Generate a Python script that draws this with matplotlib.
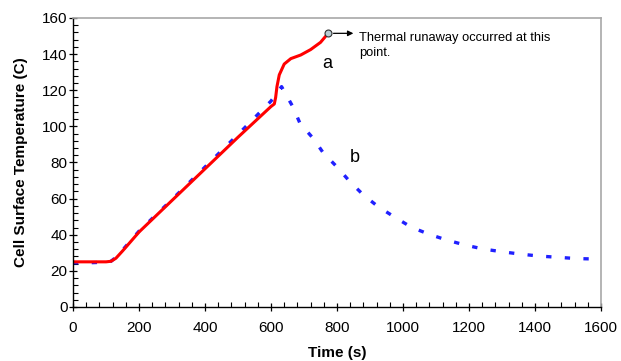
import matplotlib.pyplot as plt
from matplotlib.ticker import MultipleLocator

plt.rcParams['font.family'] = ['Liberation Sans', 'DejaVu Sans']

# curve a: cell that went into thermal runaway
red_t = [0, 50, 100, 115, 130, 150, 200, 300, 400, 500, 600, 610, 614, 618, 625, 640, 660, 690, 720, 750, 773]
red_T = [25, 25, 25, 25.3, 27, 31, 41.5, 59, 76.5, 94, 111, 112.4, 116, 122, 128.5, 134.5, 137.5, 139.5, 142.5, 146.5, 151.5]

# curve b: cell that cooled down
blue_t = [0, 50, 100, 115, 130, 150, 200, 300, 400, 500, 600, 632, 666, 688, 728, 758, 799,
          839, 880, 925, 976, 1026, 1080, 1132, 1188, 1243, 1299, 1355, 1412, 1471, 1526, 1600]
blue_T = [24.5, 24.5, 24.8, 25.3, 27.5, 31.5, 42, 59.5, 77.5, 95.5, 114, 122, 110.9, 101.6, 93.3, 85.4, 77.7,
          69.4, 62, 55.5, 49.6, 44.1, 40.2, 37.1, 34.3, 32.1, 30.6, 29.3, 28.2, 27.5, 26.8, 26.5]

runaway_t = 773
runaway_T = 151.5

fig = plt.figure(figsize=(6.21, 3.61), dpi=100)
ax = fig.add_axes([0.1176, 0.1496, 0.8502, 0.8006])

ax.plot(blue_t, blue_T, color='#2020ff', lw=2.4, linestyle=(0, (1.6, 4.0)))
ax.plot(red_t, red_T, color='#ff0000', lw=2.2, solid_capstyle='round')
ax.plot([runaway_t], [runaway_T], 'o', ms=5, mfc='#b8ccd4', mec='#303030', mew=0.8)

ax.annotate('', xy=(runaway_t + 85, runaway_T), xytext=(runaway_t + 8, runaway_T),
            arrowprops=dict(arrowstyle='-|>', color='black', lw=0.9, mutation_scale=8))
ax.text(867, 152.5, 'Thermal runaway occurred at this\npoint.', fontsize=9.3, va='top', ha='left',
        linespacing=1.4)
ax.text(770, 135, 'a', fontsize=13, ha='center', va='center')
ax.text(853, 83, 'b', fontsize=13, ha='center', va='center')

ax.set_xlim(0, 1600)
ax.set_ylim(0, 160)
ax.xaxis.set_major_locator(MultipleLocator(200))
ax.xaxis.set_minor_locator(MultipleLocator(40))
ax.yaxis.set_major_locator(MultipleLocator(20))
ax.yaxis.set_minor_locator(MultipleLocator(4))
ax.tick_params(which='major', direction='inout', length=6, width=0.9, labelsize=11)
ax.tick_params(which='minor', direction='in', length=3.5, width=0.8)
ax.tick_params(axis='y', pad=1)
ax.tick_params(axis='x', pad=7)

for s in ['top', 'right']:
    ax.spines[s].set_color('#a8a8a8')
    ax.spines[s].set_linewidth(1.2)
for s in ['left', 'bottom']:
    ax.spines[s].set_color('black')
    ax.spines[s].set_linewidth(1.0)

ax.set_xlabel('Time (s)', fontsize=11, fontweight='bold', labelpad=8)
ax.set_ylabel('Cell Surface Temperature (C)', fontsize=11, fontweight='bold', labelpad=10)

fig.savefig('out.png', dpi=100)
